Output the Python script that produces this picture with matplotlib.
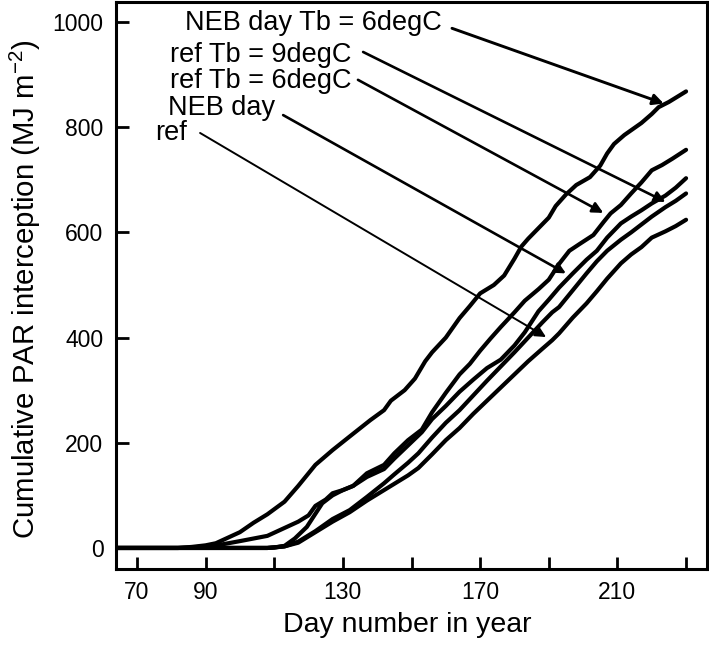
import matplotlib
matplotlib.use("Agg")
import matplotlib.pyplot as plt
import numpy as np

plt.rcParams['font.family'] = ['Liberation Sans', 'DejaVu Sans']
plt.rcParams['mathtext.default'] = 'regular'

# ---- data ----
days_neb_tb6 = [64, 82, 86, 90, 93, 96, 100, 104, 108, 113, 117, 122, 127, 132, 138, 142, 144,
                148, 151, 154, 156, 160, 164, 167, 170, 174, 177, 180, 182, 184, 187, 190, 192,
                195, 198, 202, 205, 207, 209, 212, 217, 220, 222, 225, 228, 230]
vals_neb_tb6 = [0, 0, 2, 5, 9, 18, 30, 48, 64, 88, 118, 158, 186, 212, 243, 262, 280,
                300, 322, 355, 372, 400, 437, 460, 484, 500, 518, 550, 573, 588, 608, 628, 650,
                672, 690, 705, 727, 750, 768, 785, 808, 825, 838, 848, 860, 868]

days_ref_tb6 = [64, 82, 86, 90, 95, 100, 104, 108, 113, 117, 120, 122, 125, 127, 130, 133, 137,
                142, 145, 149, 153, 156, 160, 164, 167, 170, 173, 176, 180, 183, 187, 190, 193,
                196, 199, 203, 206, 208, 211, 214, 217, 220, 223, 226, 230]
vals_ref_tb6 = [0, 0, 1, 3, 7, 13, 18, 23, 38, 50, 62, 80, 92, 104, 110, 118, 142,
                158, 180, 205, 225, 258, 295, 330, 350, 375, 398, 420, 448, 470, 492, 510, 540,
                565, 578, 595, 620, 636, 652, 674, 695, 718, 728, 740, 757]

days_neb_day = [64, 108, 110, 113, 116, 119.5, 122, 124, 127, 130, 133, 137, 142, 145, 149, 153,
                156, 160, 164, 168, 172, 176, 180, 183, 187, 190, 193, 197, 201, 204, 207, 211,
                214, 217, 220, 224, 227, 230]
vals_neb_day = [0, 0, 1, 4, 18, 40, 65, 85, 100, 110, 118, 135, 150, 170, 195, 220,
                245, 270, 297, 320, 342, 358, 385, 410, 450, 472, 495, 522, 548, 565, 590, 617,
                630, 642, 655, 670, 685, 703]

days_ref_tb9 = [64, 108, 110, 113, 117, 122, 127, 132, 137, 142, 145, 149, 152, 156, 160, 164,
                168, 172, 176, 180, 184, 188, 191, 193, 197, 201, 204, 207, 211, 214, 217, 220,
                224, 227, 230]
vals_ref_tb9 = [0, 0, 1, 3, 12, 32, 55, 72, 97, 123, 140, 162, 180, 210, 238, 262,
                290, 318, 345, 372, 400, 428, 448, 458, 490, 522, 545, 565, 586, 600, 615, 630,
                648, 660, 674]

days_ref = [64, 108, 110, 113, 117, 122, 127, 132, 137, 142, 145, 149, 152, 156, 160, 164,
            168, 172, 176, 180, 184, 188, 191, 193, 197, 201, 204, 207, 211, 214, 217, 220,
            224, 227, 230]
vals_ref = [0, 0, 1, 3, 10, 30, 50, 68, 90, 110, 122, 138, 152, 178, 205, 228,
            255, 280, 305, 330, 355, 378, 395, 408, 438, 465, 488, 512, 541, 558, 572, 590,
            602, 612, 624]

labels = ["NEB day Tb = 6degC", "ref Tb = 9degC", "ref Tb = 6degC", "NEB day", "ref"]
# text anchor (left, baseline) and arrow start / tip, in data coords
text_pos = [(84.0, 985), (79.6, 924), (79.6, 874), (79.0, 823), (75.2, 776)]
arrow_start = [(161.8, 988), (135.9, 943), (134.4, 890), (112.6, 823), (88.4, 789)]
arrow_tip = [(223.5, 845), (224.0, 658), (205.9, 637), (195.0, 522), (189.2, 401)]
arrow_lw = [2.1, 1.9, 1.9, 1.9, 1.4]

x_ticks = [70, 90, 110, 130, 150, 170, 190, 210, 230]
x_ticklabels = ["70", "90", "", "130", "", "170", "", "210", ""]
y_ticks = [0, 200, 400, 600, 800, 1000]

# ---- figure ----
W, H = 709, 645
fig = plt.figure(figsize=(W / 100, H / 100), dpi=100)
ax = fig.add_axes([116 / W, 76 / H, 591 / W, 567 / H])

series = [(days_neb_tb6, vals_neb_tb6), (days_ref_tb6, vals_ref_tb6),
          (days_neb_day, vals_neb_day), (days_ref_tb9, vals_ref_tb9), (days_ref, vals_ref)]
for d, v in series:
    ax.plot(d, v, color='black', lw=3.0, solid_capstyle='round', solid_joinstyle='round')

for lab, tp, st, tip, lw in zip(labels, text_pos, arrow_start, arrow_tip, arrow_lw):
    ax.text(tp[0], tp[1], lab, fontsize=19.5, ha='left', va='baseline', color='black')
    ax.annotate("", xy=tip, xytext=st,
                arrowprops=dict(arrowstyle='-|>', lw=lw, color='black',
                                mutation_scale=16, shrinkA=0, shrinkB=0))

ax.set_xlim(63.9, 236.1)
ax.set_ylim(-40, 1038)
ax.set_xticks(x_ticks)
ax.set_xticklabels(x_ticklabels)
ax.set_yticks(y_ticks)
ax.tick_params(axis='both', direction='in', length=9, width=2, labelsize=16.5, colors='black')
ax.tick_params(axis='x', pad=8.5)
ax.tick_params(axis='y', pad=9)
for s in ax.spines.values():
    s.set_linewidth(2.2)

fig.text(407 / W, 1 - 632 / H, "Day number in year", fontsize=20.5,
         ha='center', va='baseline')
fig.text(35 / W, 1 - 289 / H, "Cumulative PAR interception (MJ m$^{-2}$)", fontsize=21.2,
         ha='center', va='baseline', rotation=90, rotation_mode='anchor')

fig.savefig("out.png", dpi=100)
